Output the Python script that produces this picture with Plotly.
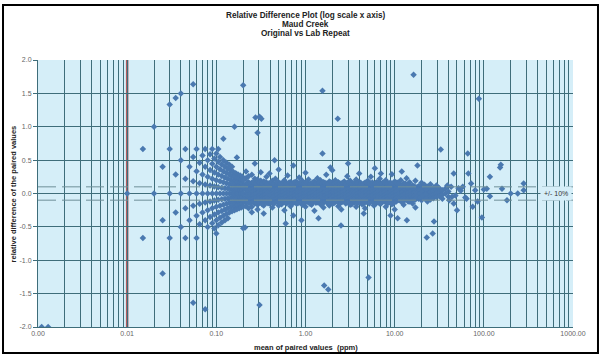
import plotly.graph_objects as go

# ---------------- data ----------------
# low-value "fan": mean of paired values (ppm) and the relative differences seen at that mean
fan_mean = [0.01, 0.015, 0.02, 0.025, 0.03, 0.035, 0.04, 0.045, 0.05, 0.055, 0.06, 0.065, 0.07,
            0.075, 0.08, 0.085, 0.09, 0.095, 0.10, 0.105, 0.11, 0.115, 0.12, 0.125, 0.13, 0.135,
            0.14, 0.145, 0.15, 0.155, 0.16, 0.165, 0.17, 0.175, 0.18, 0.185, 0.19, 0.195, 0.20]
fan_diff = [
    [0.0],
    [0.667, -0.667],
    [0.0, 1.0],
    [0.4, -0.4, -1.2],
    [0.0, 0.667, -0.667, 1.333],
    [0.286, -0.286, 1.429],
    [0.0, 0.5, -0.5, 1.5],
    [0.222, -0.222, 0.667, -0.667],
    [0.0, 0.4, -0.4],
    [0.182, -0.182, 0.545, 1.636, -1.636],
    [0.0, 0.333, -0.333, 0.667, -0.667],
    [0.154, -0.154, 0.462, -0.462],
    [0.0, 0.286, -0.286, 0.571],
    [0.133, -0.133, 0.4, -0.4, 0.667, -1.733],
    [0.0, 0.25, -0.25, 0.5, -0.5],
    [0.118, -0.118, 0.353, -0.353, 0.588],
    [0.0, 0.222, -0.222, 0.444, -0.444, 0.667],
    [0.105, -0.105, 0.316, -0.316, 0.526, -0.526],
    [0.0, 0.2, -0.2, 0.4, -0.4, 0.6, -0.6],
    [0.095, -0.095, 0.286, -0.286, 0.476, -0.476, 0.667],
    [0.0, 0.182, -0.182, 0.364, -0.364, 0.545],
    [0.087, -0.087, 0.261, -0.261, 0.435, -0.435],
    [0.0, 0.167, -0.167, 0.333, -0.333, 0.5],
    [0.08, -0.08, 0.24, -0.24, 0.4, -0.4],
    [0.0, 0.154, -0.154, 0.308, -0.308, 0.462],
    [0.074, -0.074, 0.222, -0.222, 0.37, -0.37],
    [0.0, 0.143, -0.143, 0.286, -0.286, 0.429],
    [0.069, -0.069, 0.207, -0.207, 0.345],
    [0.0, 0.133, -0.133, 0.267, -0.267, 0.4],
    [0.065, -0.065, 0.194, -0.194, 0.323],
    [0.0, 0.125, -0.125, 0.25, -0.25],
    [0.061, -0.061, 0.182, -0.182, 0.303],
    [0.0, 0.118, -0.118, 0.235, -0.235],
    [0.057, -0.057, 0.171, -0.171, 0.286],
    [0.0, 0.111, -0.111, 0.222, -0.222],
    [0.054, -0.054, 0.162, -0.162, 0.27],
    [0.0, 0.105, -0.105, 0.211, -0.211],
    [0.051, -0.051, 0.154, -0.154, 0.256],
    [0.0, 0.1, -0.1, 0.2, -0.2],
]

# dense central band (first set of columns)
core_mean = [0.215, 0.23, 0.25, 0.27, 0.29, 0.315, 0.34, 0.365, 0.395, 0.425, 0.46, 0.50, 0.54,
             0.58, 0.63, 0.68, 0.73, 0.79, 0.85, 0.92, 1.0, 1.08, 1.17, 1.26, 1.36, 1.47, 1.59,
             1.71, 1.85, 2.0, 2.16, 2.33, 2.52, 2.72, 2.94, 3.17, 3.43, 3.7, 4.0, 4.3, 4.65, 5.0,
             5.4, 5.85, 6.3, 6.8, 7.35, 7.95, 8.6, 9.3, 10.0, 10.8, 11.7, 12.6, 13.6, 14.7, 15.9,
             17.1, 18.5, 20.0, 21.6, 23.3, 25.2, 27.2, 29.4, 31.7, 34.3, 37.0, 40.0, 43.0, 48.0,
             55.0, 62.0]
core_diff = [
    [0.14, 0.09, 0.05, 0.0, -0.05, -0.09, -0.14, 0.23, -0.19, 0.33],
    [0.13, 0.09, 0.04, 0.0, -0.04, -0.09, -0.13, 0.17, -0.22, 0.26],
    [0.12, 0.08, 0.04, 0.0, -0.04, -0.08, -0.12, 0.16, -0.2, 0.28, -0.28],
    [0.11, 0.07, 0.04, 0.0, -0.04, -0.07, -0.11, 0.15, -0.15, 0.22, 0.45],
    [0.10, 0.07, 0.03, 0.0, -0.03, -0.07, -0.10, 0.14, -0.17, 0.21, -0.24],
    [0.13, 0.06, 0.03, 0.0, -0.03, -0.06, -0.1, 0.19, -0.13, 0.32],
    [0.12, 0.06, 0.03, 0.0, -0.03, -0.06, -0.12, 0.18, -0.18, -0.3],
    [0.11, 0.05, 0.02, -0.02, -0.08, -0.13, 0.16, 0.25],
    [0.1, 0.05, 0.0, -0.05, -0.1, 0.15, -0.15, 0.3],
    [0.12, 0.07, 0.02, -0.02, -0.07, -0.12, 0.19, -0.21],
    [0.13, 0.09, 0.04, 0.0, -0.04, -0.09, -0.13, 0.22],
    [0.12, 0.08, 0.04, 0.0, -0.04, -0.08, -0.12, -0.18, 0.17, 0.36],
    [0.11, 0.07, 0.02, -0.02, -0.07, -0.11, 0.15, -0.16],
    [0.12, 0.06, 0.01, -0.03, -0.08, -0.12, 0.2, -0.25],
    [0.1, 0.05, 0.0, -0.05, -0.1, 0.14, -0.14, 0.27],
    [0.13, 0.08, 0.03, -0.02, -0.06, -0.11, 0.17, -0.19],
    [0.11, 0.06, 0.02, -0.03, -0.08, -0.12, 0.16, -0.33],
    [0.12, 0.07, 0.03, -0.01, -0.05, -0.1, 0.18, -0.15],
    [0.1, 0.05, 0.01, -0.04, -0.09, -0.13, 0.15, 0.24],
    [0.12, 0.08, 0.03, -0.02, -0.07, -0.11, -0.17, 0.19],
    [0.11, 0.06, 0.02, -0.02, -0.06, -0.1, 0.16, -0.2, 0.31],
    [0.13, 0.08, 0.04, 0.0, -0.04, -0.09, -0.13, 0.21],
    [0.1, 0.06, 0.01, -0.03, -0.08, -0.12, 0.15, -0.17],
    [0.12, 0.07, 0.03, -0.01, -0.06, -0.1, 0.18, -0.26],
    [0.11, 0.05, 0.01, -0.04, -0.09, -0.13, 0.16, 0.23],
    [0.13, 0.08, 0.03, -0.02, -0.06, -0.11, -0.16, 0.2],
    [0.1, 0.06, 0.02, -0.03, -0.07, -0.12, 0.17, -0.21],
    [0.12, 0.07, 0.02, -0.02, -0.07, -0.1, 0.15, 0.28],
    [0.11, 0.06, 0.01, -0.04, -0.08, -0.13, 0.18, -0.18],
    [0.12, 0.08, 0.03, -0.01, -0.05, -0.1, 0.16, -0.15, 0.35],
    [0.1, 0.05, 0.01, -0.03, -0.08, -0.12, 0.2],
    [0.13, 0.07, 0.02, -0.02, -0.06, -0.11, -0.19, 0.17],
    [0.11, 0.06, 0.02, -0.03, -0.07, -0.12, 0.15, -0.24],
    [0.12, 0.08, 0.03, -0.01, -0.05, -0.1, 0.18],
    [0.1, 0.05, 0.01, -0.04, -0.09, -0.13, 0.16, 0.26],
    [0.12, 0.07, 0.02, -0.02, -0.07, -0.11, 0.19, -0.17],
    [0.11, 0.06, 0.02, -0.03, -0.08, -0.12, 0.15],
    [0.13, 0.08, 0.03, -0.01, -0.06, -0.1, 0.21, -0.2],
    [0.1, 0.05, 0.01, -0.04, -0.08, -0.13, 0.17, 0.3],
    [0.12, 0.07, 0.03, -0.02, -0.06, -0.11, -0.16],
    [0.11, 0.06, 0.02, -0.03, -0.07, -0.12, 0.16, -0.22],
    [0.12, 0.08, 0.03, -0.01, -0.05, -0.1, 0.19],
    [0.1, 0.05, 0.01, -0.03, -0.08, -0.12, 0.15, 0.25],
    [0.13, 0.07, 0.02, -0.02, -0.07, -0.11, -0.18],
    [0.11, 0.06, 0.02, -0.04, -0.09, 0.17],
    [0.12, 0.07, 0.03, -0.01, -0.06, -0.1, 0.22, -0.15],
    [0.1, 0.05, 0.01, -0.03, -0.08, -0.12, 0.16],
    [0.12, 0.08, 0.03, -0.02, -0.06, -0.11, 0.2, -0.2],
    [0.11, 0.06, 0.02, -0.03, -0.07, 0.15],
    [0.13, 0.07, 0.02, -0.02, -0.06, -0.1, -0.16, 0.29],
    [0.1, 0.05, 0.01, -0.04, -0.08, -0.12, 0.18, -0.24],
    [0.12, 0.07, 0.03, -0.01, -0.06, -0.1, 0.16],
    [0.11, 0.06, 0.02, -0.03, -0.07, -0.11, 0.2],
    [0.12, 0.08, 0.03, -0.02, -0.06, 0.15, -0.17],
    [0.1, 0.05, 0.01, -0.04, -0.08, 0.23],
    [0.11, 0.06, 0.02, -0.03, -0.07, -0.12, 0.17],
    [0.12, 0.07, 0.02, -0.02, -0.06, -0.15],
    [0.09, 0.04, 0.0, -0.04, -0.09, 0.19, -0.21],
    [0.11, 0.06, 0.01, -0.03, -0.08],
    [0.1, 0.05, 0.0, -0.05, -0.1, 0.16],
    [0.08, 0.03, -0.02, -0.07, 0.13],
    [0.1, 0.04, -0.01, -0.06, -0.12],
    [0.07, 0.02, -0.04, 0.14, -0.09],
    [0.09, 0.03, -0.02, -0.07],
    [0.06, 0.0, -0.05, 0.12],
    [0.08, 0.02, -0.04],
    [0.05, -0.02, -0.08],
    [0.07, 0.0],
    [0.03, -0.05],
    [0.1],
    [-0.03],
    [0.04],
    [-0.06],
]

# dense central band (in-between columns)
core2_mean = [0.222, 0.24, 0.26, 0.28, 0.30, 0.327, 0.352, 0.38, 0.41, 0.44, 0.48, 0.52, 0.56,
              0.605, 0.655, 0.705, 0.76, 0.82, 0.885, 0.96, 1.04, 1.125, 1.215, 1.31, 1.415,
              1.53, 1.65, 1.78, 1.925, 2.08, 2.245, 2.425, 2.62, 2.83, 3.05, 3.3, 3.565, 3.85,
              4.15, 4.47, 4.82, 5.2, 5.62, 6.07, 6.55, 7.07, 7.65, 8.27, 8.95, 9.65, 10.4, 11.25,
              12.15, 13.1, 14.15, 15.3, 16.5, 17.8, 19.2, 20.8, 22.4]
core2_diff = [
    [0.115, 0.065, 0.015, -0.035, -0.085, -0.125, 0.16],
    [0.105, 0.055, 0.005, -0.045, -0.095, 0.145, -0.15],
    [0.125, 0.075, 0.025, -0.025, -0.075, -0.115, 0.17],
    [0.095, 0.045, -0.005, -0.055, -0.105, 0.145, -0.14],
    [0.115, 0.07, 0.02, -0.03, -0.08, -0.13, 0.165],
    [0.1, 0.05, 0.01, -0.045, -0.09, 0.15, -0.16],
    [0.12, 0.075, 0.025, -0.02, -0.07, -0.115, 0.17],
    [0.105, 0.06, 0.01, -0.04, -0.095, 0.155, -0.145],
    [0.115, 0.065, 0.015, -0.035, -0.085, -0.13, 0.165],
    [0.095, 0.05, 0.0, -0.05, -0.1, 0.145, -0.155],
    [0.125, 0.07, 0.02, -0.025, -0.075, -0.12, 0.17],
    [0.1, 0.055, 0.005, -0.045, -0.09, 0.15, -0.14],
    [0.115, 0.065, 0.02, -0.03, -0.08, -0.125, 0.16],
    [0.105, 0.05, 0.0, -0.05, -0.1, 0.155, -0.15],
    [0.12, 0.07, 0.025, -0.02, -0.07, -0.115, 0.165],
    [0.095, 0.045, -0.005, -0.055, -0.105, 0.145, -0.16],
    [0.115, 0.065, 0.015, -0.035, -0.085, -0.13, 0.17],
    [0.1, 0.055, 0.01, -0.04, -0.09, 0.15, -0.145],
    [0.125, 0.075, 0.025, -0.025, -0.075, -0.12, 0.165],
    [0.105, 0.05, 0.0, -0.05, -0.1, 0.155, -0.15],
    [0.115, 0.07, 0.02, -0.03, -0.08, -0.125, 0.16],
    [0.095, 0.045, -0.005, -0.055, -0.105, 0.145, -0.155],
    [0.12, 0.065, 0.015, -0.035, -0.085, -0.13, 0.17],
    [0.1, 0.055, 0.005, -0.045, -0.095, 0.15, -0.14],
    [0.115, 0.075, 0.025, -0.025, -0.07, -0.115, 0.165],
    [0.105, 0.05, 0.0, -0.05, -0.1, 0.155, -0.16],
    [0.125, 0.07, 0.02, -0.03, -0.08, -0.12, 0.16],
    [0.095, 0.045, -0.005, -0.055, -0.105, 0.145, -0.15],
    [0.115, 0.065, 0.015, -0.035, -0.085, -0.13, 0.17],
    [0.1, 0.055, 0.01, -0.04, -0.09, 0.15, -0.145],
    [0.12, 0.075, 0.025, -0.02, -0.07, -0.115, 0.165],
    [0.105, 0.05, 0.0, -0.05, -0.1, 0.155, -0.155],
    [0.115, 0.065, 0.02, -0.03, -0.08, -0.125, 0.16],
    [0.095, 0.045, -0.005, -0.055, -0.105, 0.145, -0.15],
    [0.125, 0.07, 0.02, -0.025, -0.075, -0.12, 0.17],
    [0.1, 0.055, 0.005, -0.045, -0.09, 0.15, -0.16],
    [0.115, 0.065, 0.015, -0.035, -0.085, -0.13, 0.165],
    [0.105, 0.05, 0.0, -0.05, -0.1, 0.155, -0.145],
    [0.12, 0.075, 0.025, -0.025, -0.07, -0.115, 0.16],
    [0.095, 0.045, -0.005, -0.055, -0.105, 0.145, -0.155],
    [0.115, 0.07, 0.02, -0.03, -0.08, -0.125, 0.17],
    [0.1, 0.055, 0.01, -0.04, -0.09, 0.15, -0.15],
    [0.125, 0.065, 0.015, -0.035, -0.085, -0.12, 0.165],
    [0.105, 0.05, 0.0, -0.05, -0.1, 0.155, -0.16],
    [0.115, 0.075, 0.025, -0.025, -0.075, -0.13, 0.16],
    [0.095, 0.045, -0.005, -0.055, -0.105, 0.145, -0.145],
    [0.12, 0.07, 0.02, -0.03, -0.08, -0.115, 0.17],
    [0.1, 0.055, 0.005, -0.045, -0.095, 0.15, -0.155],
    [0.115, 0.065, 0.015, -0.035, -0.085, -0.125, 0.165],
    [0.105, 0.05, 0.0, -0.05, -0.1, 0.155, -0.15],
    [0.12, 0.07, 0.025, -0.025, -0.075, -0.12, 0.16],
    [0.095, 0.045, -0.005, -0.055, -0.1, 0.145],
    [0.115, 0.065, 0.015, -0.035, -0.085, -0.13],
    [0.1, 0.055, 0.005, -0.045, -0.095, 0.15],
    [0.12, 0.07, 0.02, -0.03, -0.08, -0.12],
    [0.105, 0.05, 0.0, -0.05, -0.1],
    [0.11, 0.06, 0.01, -0.04, -0.09],
    [0.095, 0.045, -0.005, -0.055],
    [0.1, 0.05, 0.0, -0.06],
    [0.085, 0.025, -0.035],
    [0.06, -0.01, -0.075],
]

# scattered points away from the band
outlier_mean = [0.0011, 0.0013, 0.16, 0.12, 0.2, 0.275, 0.29, 0.305, 0.32, 0.305, 1.55, 1.62, 1.8,
                2.3, 16.3, 5.1, 22.9, 26.7, 88.0, 1.55, 1.9, 0.73, 1.4, 0.21, 0.17, 18.0, 27.6,
                10.8, 13.7, 0.2, 3.0, 6.0, 9.0, 4.5, 0.9, 0.45, 0.6, 2.5, 12.0, 7.0,
                32.9, 66.0, 67.0, 155.0, 152.0, 117.0, 100.0, 108.0, 160.0, 117.0, 182.0, 200.0,
                240.0, 280.0, 280.0, 95.0, 75.0, 50.0, 46.0, 46.0, 72.0, 58.0, 64.0, 80.0, 85.0,
                52.0, 44.0, 39.0, 41.0]
outlier_diff = [-2.0, -2.0, 1.0, 0.82, 1.62, 1.14, 0.91, 1.15, 1.12, -1.67, 1.54, -1.38, -1.44,
                1.12, 1.78, -1.26, -0.66, -0.6, 1.42, 0.6, 0.39, 0.42, -0.37, -0.51, 0.54, 0.42,
                -0.42, -0.37, -0.4, -0.52, 0.45, 0.38, -0.33, -0.3, -0.4, 0.5, -0.45, -0.48,
                0.33, 0.3,
                0.66, 0.6, 0.3, 0.43, 0.39, 0.25, 0.06, 0.07, 0.07, -0.04, -0.1, 0.0,
                0.0, 0.15, 0.05, -0.36, -0.2, -0.25, -0.15, 0.3, 0.15, 0.1, -0.08, 0.05, -0.12,
                0.08, -0.05, 0.12, -0.1]

x_tick_values = [0.001, 0.01, 0.1, 1, 10, 100, 1000]
x_tick_labels = ["0.00", "0.01", "0.10", "1.00", "10.00", "100.00", "1000.00"]
y_tick_values = [-2.0, -1.5, -1.0, -0.5, 0.0, 0.5, 1.0, 1.5, 2.0]
y_tick_labels = ["-2.0", "-1.5", "-1.0", "-0.5", "0.0", "0.5", "1.0", "1.5", "2.0"]
band_limit = 0.1          # +/- 10 %
detection_line = 0.01     # red reference line

# ---------------- assemble ----------------
xs, ys = [], []
for means, diffs in ((fan_mean, fan_diff), (core_mean, core_diff), (core2_mean, core2_diff)):
    for m, ds in zip(means, diffs):
        for d in ds:
            xs.append(m); ys.append(d)
xs += outlier_mean
ys += outlier_diff

# log grid: every 1..9 x decade, labels only at decades
grid_vals, grid_text = [], []
for i, dec in enumerate(x_tick_values[:-1]):
    for k in range(1, 10):
        grid_vals.append(dec * k)
        grid_text.append(x_tick_labels[i] if k == 1 else "")
grid_vals.append(x_tick_values[-1]); grid_text.append(x_tick_labels[-1])

PLOT_BG = "#d5eef8"
GRID = "#3e6d7a"
FONT = "Liberation Sans, Arial, sans-serif"

fig = go.Figure()
fig.add_trace(go.Scatter(
    x=xs, y=ys, mode="markers",
    marker=dict(symbol="diamond", size=5, color="#4a79b0", line=dict(width=0)),
    showlegend=False, hoverinfo="x+y"))

fig.update_layout(
    width=603, height=358,
    margin=dict(l=38, r=30, t=60, b=31),
    paper_bgcolor="white", plot_bgcolor=PLOT_BG,
    font=dict(family=FONT, size=7, color="#555"),
    xaxis=dict(type="log", range=[-3, 3], tickvals=grid_vals, ticktext=grid_text,
               showgrid=True, gridcolor=GRID, gridwidth=1, zeroline=False,
               showline=True, linecolor=GRID, ticks="", tickfont=dict(size=7, color="#666")),
    yaxis=dict(range=[-2, 2], tickvals=y_tick_values, ticktext=y_tick_labels,
               showgrid=True, gridcolor=GRID, gridwidth=1, zeroline=False,
               showline=True, linecolor=GRID, ticks="outside", ticklen=4, tickcolor=GRID,
               tickfont=dict(size=7, color="#666")),
)

# +/- 10 % dashed limits
for lim in (band_limit, -band_limit):
    fig.add_shape(type="line", xref="paper", yref="y", x0=0, x1=1, y0=lim, y1=lim,
                  line=dict(color="#6f8f99", width=1, dash="18px,6px"), layer="above")
# red reference line
fig.add_shape(type="line", xref="x", yref="paper", x0=detection_line, x1=detection_line,
              y0=0, y1=1, line=dict(color="#b35a5e", width=2.5), layer="below")

fig.add_annotation(x=2.81, y=0, xref="x", yref="y", text="+/- 10%", showarrow=False,
                   font=dict(size=7, color="#333", family=FONT), bgcolor=PLOT_BG,
                   borderpad=3)

# titles
title_lines = ["Relative Difference Plot (log scale x axis)", "Maud Creek", "Original vs Lab Repeat"]
for i, t in enumerate(title_lines):
    fig.add_annotation(x=0.5, y=1.1685 - i * 0.0337, xref="paper", yref="paper",
                       text="<b>" + t + "</b>", showarrow=False, yanchor="middle",
                       font=dict(size=8.2, color="#222", family=FONT))
fig.add_annotation(x=0.5, y=-0.075, xref="paper", yref="paper",
                   text="<b>mean of paired values  (ppm)</b>", showarrow=False, yanchor="middle",
                   font=dict(size=7.5, color="#222", family=FONT))
fig.add_annotation(x=-0.045, y=0.5, xref="paper", yref="paper", textangle=-90,
                   text="<b>relative difference of the paired values</b>", showarrow=False,
                   xanchor="center", yanchor="middle",
                   font=dict(size=7.5, color="#222", family=FONT))

# outer frame
fig.add_shape(type="rect", xref="paper", yref="paper", x0=-0.0654, x1=1.0467, y0=-0.0974, y1=1.206,
              line=dict(color="black", width=2), fillcolor="rgba(0,0,0,0)", layer="above")

fig.write_html("out.html")
